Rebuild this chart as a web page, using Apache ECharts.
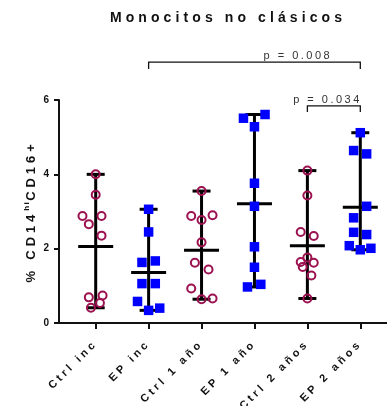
<!DOCTYPE html>
<html><head><meta charset="utf-8">
<script src="https://cdn.jsdelivr.net/npm/echarts@6/dist/echarts.min.js"></script>
<style>html,body{margin:0;padding:0;background:#fff}#c{width:387px;height:406px}</style>
</head><body><div id="c"></div>
<script>
// ---- data ----
const categories = ['Ctrl inc', 'EP inc', 'Ctrl 1 año', 'EP 1 año', 'Ctrl 2 años', 'EP 2 años'];
const ctrlInc = [4.00, 3.45, 2.88, 2.88, 2.66, 2.35, 0.69, 0.74, 0.54, 0.41];
const epInc   = [3.06, 2.45, 1.63, 1.67, 1.06, 1.06, 0.58, 0.34, 0.40];
const ctrl1   = [3.55, 2.88, 2.77, 2.90, 2.17, 1.62, 1.44, 0.93, 0.64, 0.66];
const ep1     = [5.51, 5.61, 5.28, 3.76, 3.14, 2.05, 1.50, 0.97, 1.04];
const ctrl2   = [4.10, 3.43, 2.45, 2.34, 1.76, 1.64, 1.62, 1.51, 1.28, 0.66];
const ep2     = [5.12, 4.64, 4.55, 3.14, 2.83, 2.44, 2.38, 2.08, 1.97, 2.01];
const yTickLabels = [0, 2, 4, 6];
const pLabels = ['p = 0.008', 'p = 0.034'];
const pFrom = [2, 5];
const pTo = [6, 6];

// horizontal jitter (category units) of each point, as placed in the figure
const jitterCtrlInc = [0, 0, -0.25, 0.11, -0.13, 0.11, -0.13, 0.13, 0.08, -0.09];
const jitterEpInc   = [0, 0, -0.126, 0.126, -0.126, 0.126, -0.21, 0, 0.21];
const jitterCtrl1   = [0, -0.195, 0, 0.208, 0, -0.126, 0.132, -0.195, 0, 0.208];
const jitterEp1     = [-0.208, 0.2, 0, 0, 0, 0, 0, -0.132, 0.12];
const jitterCtrl2   = [0, 0, -0.126, 0.12, 0, -0.126, 0.12, -0.088, 0.076, 0];
const jitterEp2     = [0, -0.126, 0.12, 0.12, -0.126, -0.126, 0.12, -0.208, 0, 0.2];
// bracket placement (data units)
const bracketLevel = [7.02, 5.84];
const bracketLabelX = [4.82, 5.38];
const bracketDrop = [7, 6];

// ---- letter spacing (Prism-like tracking) ----
function spacingFor(font) {
  const m = /(\d+(?:\.\d+)?)px/.exec(font || '');
  const size = m ? parseFloat(m[1]) : 12;
  const bold = /bold|[6-9]00/.test(font || '');
  if (bold) {
    if (size >= 14) return 4.1;
    if (size >= 13) return 3.9;
    if (size >= 11) return 3.3;
    if (size <= 8.5) return 1.5;
    return 0;
  }
  if (size >= 11) return 2.5;
  return 0;
}
const hasLS = 'letterSpacing' in CanvasRenderingContext2D.prototype;
if (hasLS) {
  const proto = CanvasRenderingContext2D.prototype;
  const origFill = proto.fillText;
  proto.fillText = function (t, x, y, mw) {
    this.letterSpacing = spacingFor(this.font) + 'px';
    return mw === undefined ? origFill.call(this, t, x, y) : origFill.call(this, t, x, y, mw);
  };
  const mctx = document.createElement('canvas').getContext('2d');
  echarts.setPlatformAPI({
    measureText: function (text, font) {
      mctx.font = font || '12px sans-serif';
      mctx.letterSpacing = spacingFor(mctx.font) + 'px';
      return mctx.measureText(text);
    }
  });
}

const FONT = '"Liberation Sans", Arial, sans-serif';
const groups = [ctrlInc, epInc, ctrl1, ep1, ctrl2, ep2];
const jitters = [jitterCtrlInc, jitterEpInc, jitterCtrl1, jitterEp1, jitterCtrl2, jitterEp2];
const ctrlPts = [], epPts = [];
groups.forEach((vals, gi) => {
  const target = gi % 2 === 0 ? ctrlPts : epPts;
  vals.forEach((v, k) => target.push([gi + 1 + jitters[gi][k], v]));
});
const stats = groups.map((vals, gi) => {
  const mean = vals.reduce((a, b) => a + b, 0) / vals.length;
  return [gi + 1, mean, Math.min(...vals), Math.max(...vals)];
});
const brackets = pLabels.map((l, i) => [pFrom[i], pTo[i], bracketLevel[i], bracketLabelX[i]]);

const chart = echarts.init(document.getElementById('c'), null, { renderer: 'canvas' });
chart.setOption({
  animation: false,
  backgroundColor: '#fff',
  title: {
    text: 'Monocitos no clásicos',
    left: 228, top: 9, padding: 0, textAlign: 'center',
    textStyle: { fontFamily: FONT, fontSize: 14, fontWeight: 'bold', color: '#111' }
  },
  grid: { left: 59, right: 0, top: 100, bottom: 83, containLabel: false, outerBoundsMode: 'none' },
  xAxis: {
    type: 'value', min: 0.3065, max: 6.5045,
    splitLine: { show: false },
    axisLine: { onZero: false, lineStyle: { color: '#111', width: 2 } },
    axisTick: { show: true, customValues: [1, 2, 3, 4, 5, 6], length: 6, lineStyle: { color: '#111', width: 2 } },
    axisLabel: {
      customValues: [1, 2, 3, 4, 5, 6],
      formatter: v => categories[Math.round(v) - 1] || '',
      rotate: 45, margin: 19,
      fontFamily: FONT, fontSize: 11, fontWeight: 'bold', color: '#111'
    }
  },
  yAxis: {
    type: 'value', min: 0, max: 6, interval: 2,
    splitLine: { show: false },
    axisLine: { show: true, lineStyle: { color: '#111', width: 2 } },
    axisTick: { show: true, length: 5, lineStyle: { color: '#111', width: 2 } },
    axisLabel: {
      margin: 10, fontFamily: FONT, fontSize: 10, fontWeight: 'bold', color: '#111',
      formatter: v => (yTickLabels.indexOf(v) >= 0 ? String(v) : '')
    },
    name: '{a|% CD14}{s|hi}{a|CD16+}',
    nameLocation: 'middle', nameGap: 19, nameMoveOverlap: false,
    nameTextStyle: {
      rich: {
        a: { fontFamily: FONT, fontSize: 13, fontWeight: 'bold', color: '#111', lineHeight: 18, verticalAlign: 'bottom' },
        s: { fontFamily: FONT, fontSize: 8, fontWeight: 'bold', color: '#111', lineHeight: 18, verticalAlign: 'top' }
      }
    }
  },
  series: [
    {
      type: 'custom', name: 'range', data: stats, z: 2,
      renderItem: function (params, api) {
        const x = api.value(0);
        const m = api.coord([x, api.value(1)]);
        const lo = api.coord([x, api.value(2)]);
        const hi = api.coord([x, api.value(3)]);
        const st = { stroke: '#000', lineWidth: 3 };
        return {
          type: 'group', children: [
            { type: 'line', shape: { x1: hi[0], y1: hi[1], x2: lo[0], y2: lo[1] }, style: st },
            { type: 'line', shape: { x1: hi[0] - 9, y1: hi[1], x2: hi[0] + 9, y2: hi[1] }, style: st },
            { type: 'line', shape: { x1: lo[0] - 9, y1: lo[1], x2: lo[0] + 9, y2: lo[1] }, style: st },
            { type: 'line', shape: { x1: m[0] - 17.5, y1: m[1], x2: m[0] + 17.5, y2: m[1] }, style: st }
          ]
        };
      }
    },
    {
      type: 'scatter', name: 'Ctrl', data: ctrlPts, z: 3,
      symbol: 'circle', symbolSize: 8,
      itemStyle: { color: 'rgba(0,0,0,0)', borderColor: '#9C1150', borderWidth: 2, opacity: 1 }
    },
    {
      type: 'scatter', name: 'EP', data: epPts, z: 3,
      symbol: 'rect', symbolSize: 9.5,
      itemStyle: { color: '#0000FF', opacity: 1 }
    },
    {
      type: 'custom', name: 'brackets', data: brackets, clip: false, z: 4,
      renderItem: function (params, api) {
        const i = params.dataIndex;
        const a = api.coord([api.value(0), api.value(2)]);
        const b = api.coord([api.value(1), api.value(2)]);
        const t = api.coord([api.value(3), api.value(2)]);
        const d = bracketDrop[i];
        return {
          type: 'group', children: [
            { type: 'polyline', shape: { points: [[a[0], a[1] + d], [a[0], a[1]], [b[0], b[1]], [b[0], b[1] + d]] },
              style: { stroke: '#111', lineWidth: 1.3, fill: null } },
            { type: 'text', x: t[0], y: a[1] - 6,
              style: { text: pLabels[i], align: 'center', verticalAlign: 'middle', textAlign: 'center', textVerticalAlign: 'middle',
                       font: '11px ' + FONT, fill: '#333' } }
          ]
        };
      }
    }
  ]
});
</script></body></html>
